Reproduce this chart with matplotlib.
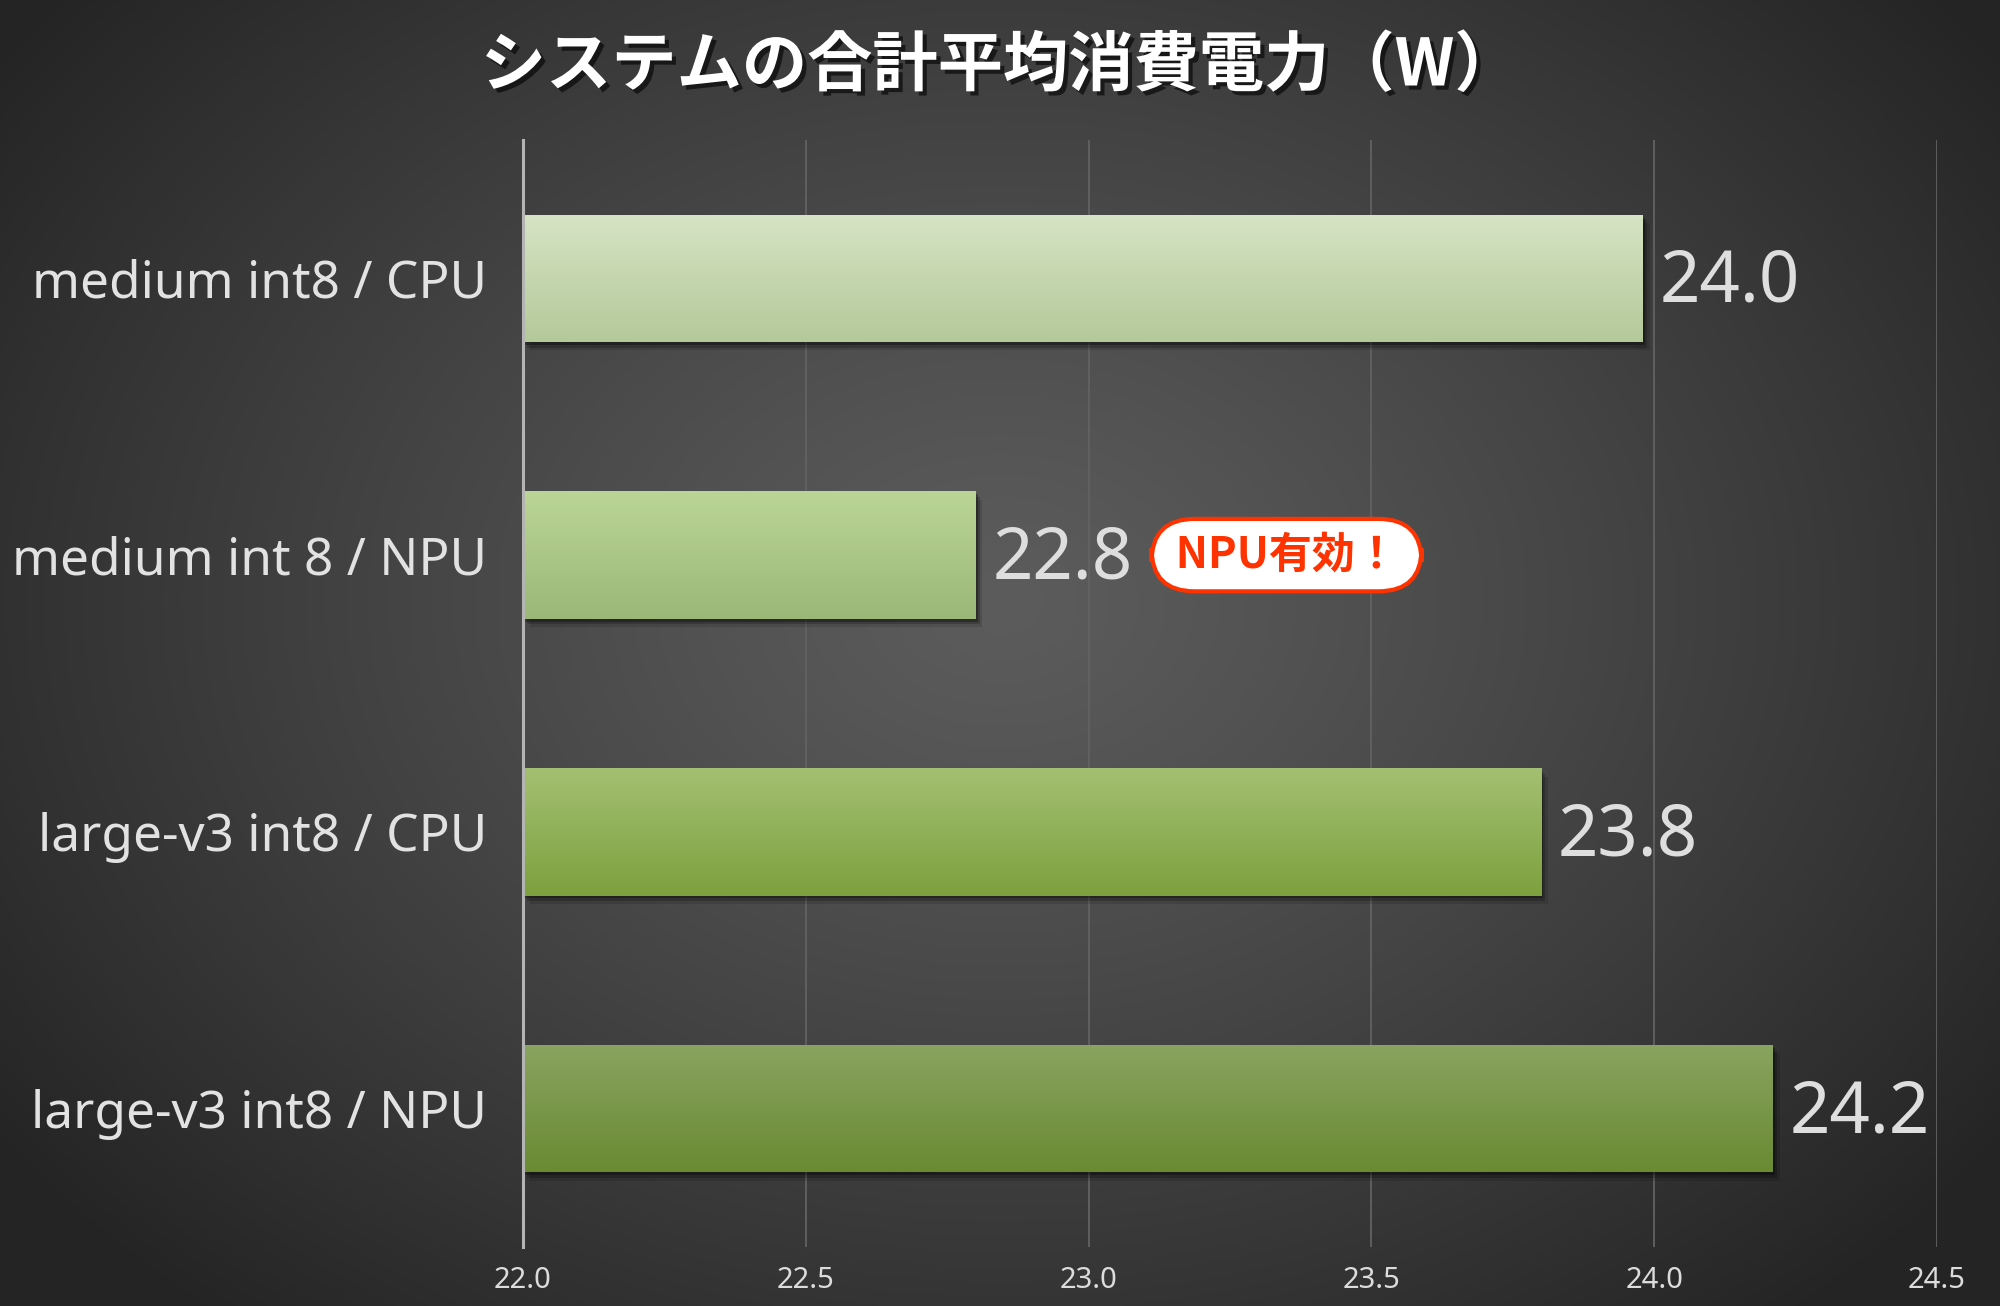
"""
System average power consumption chart (horizontal bars)
"""
import numpy as np
import matplotlib
matplotlib.use("Agg")
import matplotlib.pyplot as plt
import matplotlib.patheffects as pe

#----------------------------DATA-------------------------------#
categories = ["medium int8 / CPU", "medium int 8 / NPU",
              "large-v3 int8 / CPU", "large-v3 int8 / NPU"]
values = [23.98, 22.80, 23.80, 24.21]
xticks = [22.0, 22.5, 23.0, 23.5, 24.0, 24.5]
tick_labels = ["22.0", "22.5", "23.0", "23.5", "24.0", "24.5"]
title = "システムの合計平均消費電力（W）"
badge = " NPU有効！ "
badge_row = 1
badge_x = 23.35
# top / bottom colours of each bar's gradient
bar_top = ["#d6e4c4", "#bad596", "#a3c072", "#89a460"]
bar_bottom = ["#b4c99a", "#9cb878", "#7ea03e", "#6a8a33"]
#---------------------------------------------------------------#

plt.rcParams['font.family'] = ['Noto Sans', 'Noto Sans CJK JP', 'DejaVu Sans']

fig = plt.figure(figsize=(20, 13.06), dpi=100)

# radial background
bg = fig.add_axes([0, 0, 1, 1], zorder=-10)
h, w = 653, 1000
yy, xx = np.mgrid[0:h, 0:w]
r = np.hypot((xx - 500) / 620.0, (yy - 300) / 470.0)
t = np.clip(r, 0, 1) ** 1.2
c_in, c_out = np.array([0x5c, 0x5c, 0x5c]) / 255, np.array([0x24, 0x24, 0x24]) / 255
img = c_in[None, None, :] * (1 - t[..., None]) + c_out[None, None, :] * t[..., None]
bg.imshow(img, aspect='auto', extent=(0, 1, 0, 1), origin='upper')
bg.set_axis_off()

ax = fig.add_axes([0.2615, 0.0452, 0.707, 0.8476])
ax.set_facecolor('none')
ax.set_xlim(22, 24.5)
ax.set_ylim(3.5, -0.5)

ypos = np.arange(len(categories))
widths = [v - 22 for v in values]
bars = ax.barh(ypos, widths, left=22, height=0.46, color='none', zorder=3)

shadow = [pe.SimplePatchShadow(offset=(5, -6), shadow_rgbFace='black', alpha=0.12),
          pe.SimplePatchShadow(offset=(3, -4), shadow_rgbFace='black', alpha=0.2),
          pe.SimplePatchShadow(offset=(1.5, -2), shadow_rgbFace='black', alpha=0.3)]

for rect, ct, cb in zip(bars, bar_top, bar_bottom):
    rect.set_path_effects(shadow)
    c0 = np.array(matplotlib.colors.to_rgb(ct))
    c1 = np.array(matplotlib.colors.to_rgb(cb))
    s = np.linspace(0, 1, 128)[:, None]
    grad = (c0 * (1 - s) + c1 * s)[:, None, :]
    x0, y0 = rect.get_x(), rect.get_y()
    im = ax.imshow(grad, aspect='auto', origin='upper', zorder=4,
                   extent=(x0, x0 + rect.get_width(), y0 + rect.get_height(), y0))
    im.set_clip_path(rect)

for i, v in enumerate(values):
    ax.text(v + 0.03, ypos[i] + 0.018, f"{v:.1f}", ha='left', va='center',
            fontsize=51, color='#dedede', zorder=5)

ax.text(badge_x, badge_row, badge, ha='center', va='center', fontsize=31,
        fontweight='bold', color='#ff3300', family=['Noto Sans CJK JP', 'DejaVu Sans'],
        zorder=6,
        bbox=dict(boxstyle='round,pad=0.33,rounding_size=1.0', fc='white',
                  ec='#ff3300', lw=3))

ax.set_xticks(xticks)
ax.set_xticklabels(tick_labels)
ax.set_yticks(ypos)
ax.set_yticklabels(categories)
ax.tick_params(axis='x', length=0, pad=14, labelsize=21, labelcolor='#dcdcdc')
ax.tick_params(axis='y', length=0, pad=26, labelsize=37, labelcolor='#e2e2e2')
ax.grid(axis='x', color='#626262', lw=1.3, zorder=1)
ax.set_axisbelow(True)
for side in ['top', 'right', 'bottom']:
    ax.spines[side].set_visible(False)
ax.spines['left'].set_color('#b4b4b4')
ax.spines['left'].set_linewidth(2.2)
ax.spines['left'].set_zorder(7)

fig.text(0.5, 1 - 66 / 1306, title, ha='center', va='center', fontsize=47,
         fontweight='bold', color='white', family=['Noto Sans CJK JP', 'DejaVu Sans'],
         path_effects=[pe.withSimplePatchShadow(offset=(3, -3), shadow_rgbFace='black',
                                                alpha=0.6)])

plt.savefig('out.png', dpi=100)
